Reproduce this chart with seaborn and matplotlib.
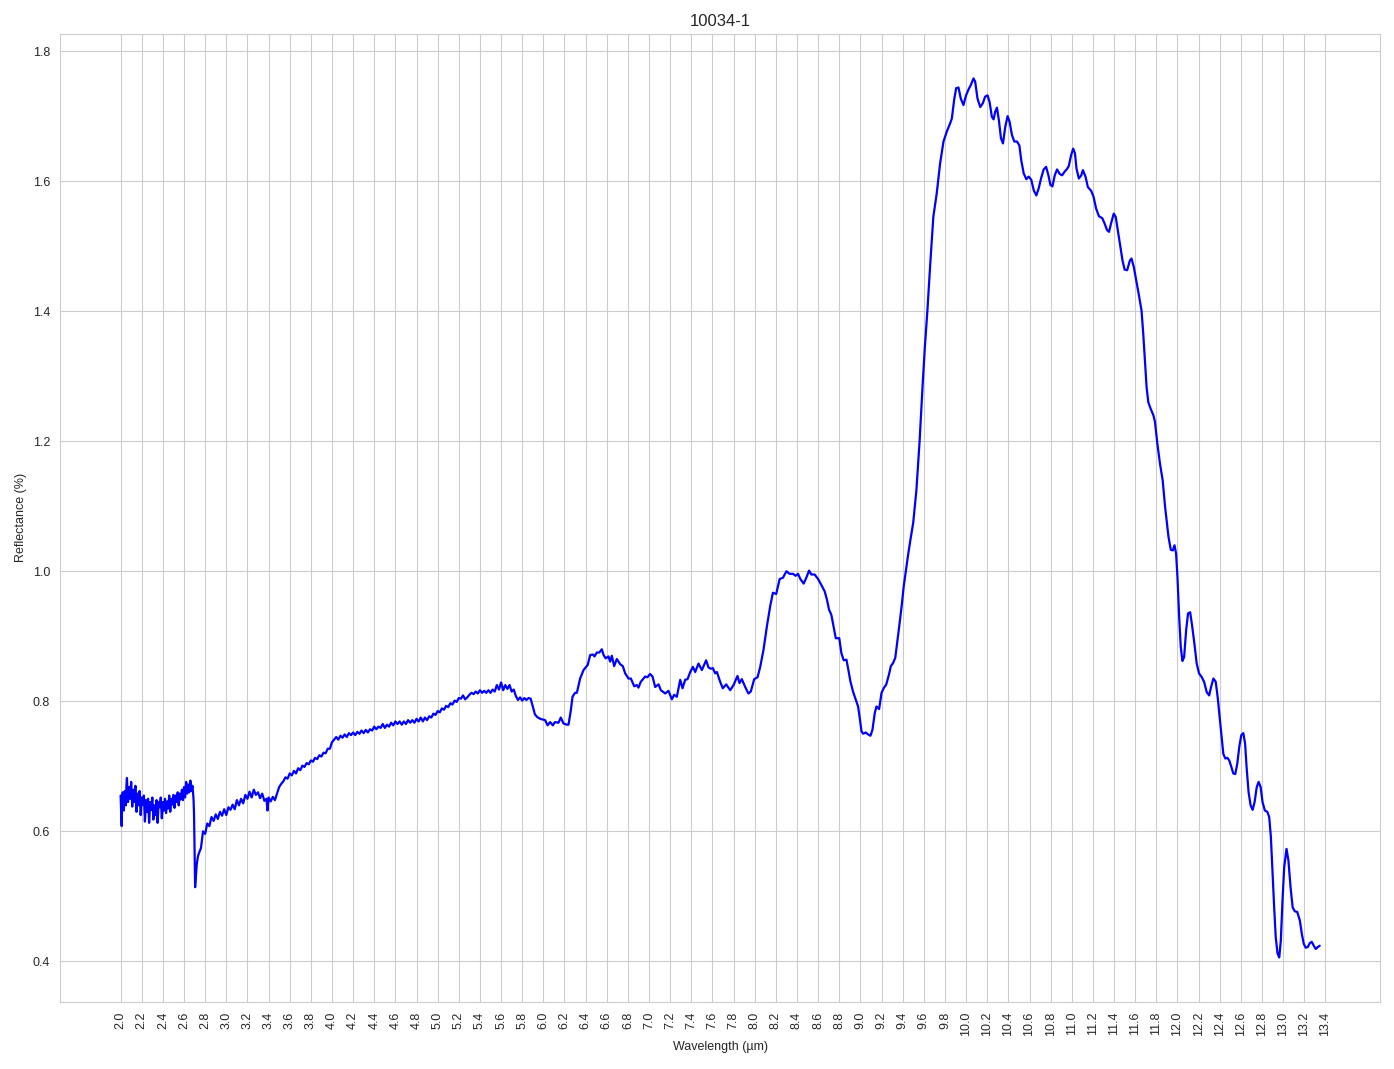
import matplotlib
matplotlib.use('Agg')
import matplotlib.pyplot as plt
import seaborn as sns
import numpy as np

# Noisy start of the spectrum (2.00 - 2.69 um)
wl_start = [2.00, 2.005, 2.01, 2.015, 2.02, 2.03, 2.04, 2.05, 2.055, 2.06, 2.07, 2.08, 2.09,
            2.10, 2.11, 2.12, 2.13, 2.14, 2.15, 2.16, 2.17, 2.18, 2.19,
            2.20, 2.21, 2.22, 2.23, 2.24, 2.25, 2.26, 2.27, 2.28, 2.29,
            2.30, 2.31, 2.32, 2.33, 2.34, 2.35, 2.36, 2.37, 2.38, 2.39,
            2.40, 2.41, 2.42, 2.43, 2.44, 2.45, 2.46, 2.47, 2.48, 2.49,
            2.50, 2.51, 2.52, 2.53, 2.54, 2.55, 2.56, 2.57, 2.58, 2.59,
            2.60, 2.61, 2.62, 2.63, 2.64, 2.65, 2.66, 2.67, 2.68, 2.69]
refl_start = [0.655, 0.630, 0.608, 0.650, 0.660, 0.632, 0.662, 0.640, 0.670, 0.682, 0.645, 0.668, 0.650,
              0.676, 0.638, 0.664, 0.645, 0.670, 0.630, 0.658, 0.640, 0.662, 0.625,
              0.652, 0.641, 0.655, 0.615, 0.648, 0.630, 0.650, 0.613, 0.645, 0.633,
              0.652, 0.618, 0.640, 0.625, 0.648, 0.613, 0.645, 0.637, 0.652, 0.620,
              0.645, 0.632, 0.650, 0.628, 0.646, 0.635, 0.655, 0.630, 0.650, 0.641,
              0.656, 0.636, 0.655, 0.645, 0.660, 0.640, 0.658, 0.649, 0.664, 0.648,
              0.668, 0.652, 0.676, 0.658, 0.672, 0.660, 0.678, 0.662, 0.670, 0.650]

# Sharp dip near 2.7 um
wl_dip = [2.695, 2.705, 2.712, 2.72, 2.73]
refl_dip = [0.625, 0.514, 0.530, 0.548, 0.560]

# Slowly rising noisy part (2.74 - 5.94 um)
wl_rise = [2.74, 2.76, 2.78, 2.80, 2.82, 2.84, 2.86, 2.88, 2.90, 2.92,
           2.94, 2.96, 2.98, 3.00, 3.02, 3.04, 3.06, 3.08, 3.10, 3.12,
           3.14, 3.16, 3.18, 3.20, 3.22, 3.24, 3.26, 3.28, 3.30, 3.32,
           3.34, 3.36, 3.38, 3.39, 3.40, 3.42, 3.44, 3.46, 3.48, 3.50,
           3.52, 3.54, 3.56, 3.58, 3.60, 3.62, 3.64, 3.66, 3.68, 3.70,
           3.72, 3.74, 3.76, 3.78, 3.80, 3.82, 3.84, 3.86, 3.88, 3.90,
           3.92, 3.94, 3.96, 3.98, 4.00, 4.02, 4.04, 4.06, 4.08, 4.10,
           4.12, 4.14, 4.16, 4.18, 4.20, 4.22, 4.24, 4.26, 4.28, 4.30,
           4.32, 4.34, 4.36, 4.38, 4.40, 4.42, 4.44, 4.46, 4.48, 4.50,
           4.52, 4.54, 4.56, 4.58, 4.60, 4.62, 4.64, 4.66, 4.68, 4.70,
           4.72, 4.74, 4.76, 4.78, 4.80, 4.82, 4.84, 4.86, 4.88, 4.90,
           4.92, 4.94, 4.96, 4.98, 5.00, 5.02, 5.04, 5.06, 5.08, 5.10,
           5.12, 5.14, 5.16, 5.18, 5.20, 5.22, 5.24, 5.26, 5.28, 5.30,
           5.32, 5.34, 5.36, 5.38, 5.40, 5.42, 5.44, 5.46, 5.48, 5.50,
           5.52, 5.54, 5.56, 5.58, 5.60, 5.62, 5.64, 5.66, 5.68, 5.70,
           5.72, 5.74, 5.76, 5.78, 5.80, 5.82, 5.84, 5.86, 5.88, 5.90,
           5.92, 5.94]
refl_rise = [0.566, 0.574, 0.600, 0.596, 0.612, 0.608, 0.622, 0.616, 0.626, 0.619,
             0.630, 0.624, 0.634, 0.625, 0.637, 0.633, 0.641, 0.634, 0.648, 0.640,
             0.650, 0.643, 0.656, 0.650, 0.661, 0.652, 0.664, 0.656, 0.660, 0.651,
             0.658, 0.647, 0.650, 0.632, 0.652, 0.646, 0.653, 0.648, 0.658, 0.668,
             0.673, 0.677, 0.683, 0.681, 0.689, 0.686, 0.693, 0.689, 0.697, 0.694,
             0.701, 0.699, 0.705, 0.703, 0.709, 0.707, 0.713, 0.711, 0.717, 0.715,
             0.721, 0.720, 0.727, 0.727, 0.737, 0.741, 0.745, 0.741, 0.747, 0.744,
             0.749, 0.745, 0.751, 0.748, 0.752, 0.748, 0.753, 0.750, 0.755, 0.751,
             0.756, 0.752, 0.757, 0.755, 0.761, 0.757, 0.761, 0.759, 0.765, 0.759,
             0.764, 0.761, 0.767, 0.763, 0.769, 0.765, 0.769, 0.764, 0.769, 0.765,
             0.771, 0.767, 0.771, 0.767, 0.773, 0.769, 0.775, 0.769, 0.775, 0.771,
             0.777, 0.775, 0.781, 0.779, 0.785, 0.783, 0.789, 0.787, 0.793, 0.791,
             0.797, 0.795, 0.801, 0.799, 0.805, 0.804, 0.809, 0.803, 0.806, 0.810,
             0.813, 0.811, 0.815, 0.812, 0.817, 0.813, 0.816, 0.813, 0.817, 0.813,
             0.818, 0.815, 0.825, 0.818, 0.829, 0.817, 0.825, 0.819, 0.825, 0.815,
             0.818, 0.808, 0.802, 0.806, 0.801, 0.805, 0.802, 0.805, 0.804, 0.792,
             0.780, 0.776]

# Mid-infrared bands (5.97 - 9.47 um)
wl_mid = [5.97, 6.017, 6.04, 6.064, 6.09, 6.11, 6.143, 6.165, 6.19, 6.222,
          6.238, 6.26, 6.276, 6.30, 6.317, 6.348, 6.38, 6.42, 6.443, 6.468,
          6.484, 6.506, 6.53, 6.553, 6.57, 6.59, 6.616, 6.632, 6.648, 6.67,
          6.695, 6.727, 6.752, 6.774, 6.806, 6.828, 6.86, 6.884, 6.90, 6.922,
          6.963, 6.985, 7.01, 7.033, 7.058, 7.09, 7.112, 7.153, 7.184, 7.216,
          7.238, 7.263, 7.295, 7.317, 7.342, 7.364, 7.39, 7.415, 7.437, 7.468,
          7.50, 7.516, 7.54, 7.563, 7.585, 7.604, 7.626, 7.642, 7.673, 7.698,
          7.73, 7.768, 7.80, 7.837, 7.856, 7.878, 7.91, 7.94, 7.963, 7.995,
          8.027, 8.052, 8.083, 8.115, 8.146, 8.172, 8.203, 8.236, 8.267, 8.30,
          8.33, 8.362, 8.387, 8.41, 8.432, 8.463, 8.488, 8.514, 8.536, 8.567,
          8.60, 8.63, 8.662, 8.684, 8.703, 8.725, 8.748, 8.767, 8.80, 8.82,
          8.842, 8.868, 8.883, 8.905, 8.93, 8.962, 8.978, 8.994, 9.01, 9.026,
          9.05, 9.073, 9.095, 9.114, 9.136, 9.152, 9.177, 9.20, 9.22, 9.245,
          9.27, 9.288, 9.31, 9.33, 9.348, 9.367, 9.39, 9.41, 9.43, 9.452,
          9.474]
refl_mid = [0.773, 0.771, 0.763, 0.768, 0.763, 0.768, 0.767, 0.775, 0.766, 0.764,
            0.764, 0.786, 0.807, 0.813, 0.813, 0.835, 0.848, 0.856, 0.871, 0.872,
            0.869, 0.875, 0.875, 0.880, 0.871, 0.866, 0.869, 0.861, 0.870, 0.854,
            0.865, 0.857, 0.854, 0.843, 0.835, 0.835, 0.823, 0.825, 0.821, 0.830,
            0.838, 0.837, 0.842, 0.838, 0.822, 0.826, 0.817, 0.812, 0.816, 0.803,
            0.810, 0.807, 0.833, 0.820, 0.833, 0.834, 0.845, 0.853, 0.845, 0.858,
            0.848, 0.854, 0.863, 0.852, 0.850, 0.851, 0.843, 0.845, 0.830, 0.820,
            0.826, 0.817, 0.825, 0.839, 0.828, 0.834, 0.822, 0.812, 0.815, 0.834,
            0.837, 0.853, 0.879, 0.915, 0.946, 0.967, 0.965, 0.988, 0.990, 1.000,
            0.996, 0.996, 0.993, 0.996, 0.988, 0.981, 0.990, 1.001, 0.995, 0.995,
            0.988, 0.979, 0.969, 0.956, 0.941, 0.933, 0.913, 0.897, 0.897, 0.874,
            0.863, 0.864, 0.851, 0.831, 0.815, 0.800, 0.792, 0.774, 0.754, 0.750,
            0.752, 0.749, 0.747, 0.756, 0.782, 0.792, 0.788, 0.813, 0.820, 0.826,
            0.841, 0.854, 0.859, 0.867, 0.890, 0.915, 0.946, 0.977, 1.000, 1.026,
            1.049]

# Reststrahlen peak (9.50 - 11.09 um)
wl_peak = [9.50, 9.53, 9.56, 9.59, 9.61, 9.634, 9.659, 9.69, 9.722, 9.754, 9.786, 9.817,
           9.849, 9.865, 9.887, 9.906, 9.928, 9.95, 9.975, 10.0, 10.023, 10.045,
           10.07, 10.086, 10.108, 10.134, 10.159, 10.18, 10.203, 10.222, 10.244, 10.26,
           10.276, 10.292, 10.31, 10.33, 10.349, 10.371, 10.393, 10.412, 10.434, 10.456,
           10.481, 10.504, 10.522, 10.545, 10.57, 10.592, 10.617, 10.64, 10.665, 10.687,
           10.709, 10.734, 10.757, 10.779, 10.798, 10.817, 10.839, 10.861, 10.886, 10.908,
           10.93, 10.956, 10.971, 10.994, 11.013, 11.03, 11.045, 11.067, 11.09]
refl_peak = [1.075, 1.125, 1.200, 1.290, 1.345, 1.401, 1.468, 1.545, 1.581, 1.627, 1.661, 1.676,
             1.689, 1.696, 1.725, 1.743, 1.744, 1.727, 1.717, 1.732, 1.741, 1.748,
             1.758, 1.753, 1.727, 1.714, 1.720, 1.730, 1.732, 1.722, 1.699, 1.695,
             1.707, 1.713, 1.694, 1.666, 1.658, 1.684, 1.700, 1.691, 1.671, 1.661,
             1.661, 1.655, 1.632, 1.612, 1.603, 1.607, 1.602, 1.586, 1.578, 1.589,
             1.604, 1.618, 1.622, 1.609, 1.594, 1.592, 1.609, 1.618, 1.611, 1.609,
             1.614, 1.619, 1.623, 1.640, 1.650, 1.643, 1.619, 1.604, 1.609]

# Falling edge (11.105 - 11.883 um)
wl_fall = [11.105, 11.13, 11.152, 11.184, 11.206, 11.23, 11.257, 11.289, 11.31, 11.333,
           11.352, 11.375, 11.397, 11.416, 11.438, 11.46, 11.48, 11.50, 11.524, 11.55,
           11.565, 11.587, 11.613, 11.638, 11.66, 11.676, 11.692, 11.708, 11.724, 11.746,
           11.772, 11.787, 11.81, 11.835, 11.86, 11.883]
refl_fall = [1.617, 1.607, 1.591, 1.585, 1.576, 1.558, 1.546, 1.543, 1.535, 1.525,
             1.522, 1.537, 1.550, 1.545, 1.522, 1.499, 1.478, 1.464, 1.463, 1.478,
             1.481, 1.468, 1.445, 1.422, 1.401, 1.366, 1.324, 1.283, 1.260, 1.250,
             1.240, 1.230, 1.196, 1.165, 1.140, 1.099]

# Tail (11.915 - 13.346 um)
wl_tail = [11.915, 11.937, 11.956, 11.972, 11.987, 12.0, 12.016, 12.031, 12.047, 12.063,
           12.082, 12.10, 12.12, 12.138, 12.16, 12.182, 12.204, 12.23, 12.252, 12.277,
           12.30, 12.318, 12.34, 12.362, 12.38, 12.396, 12.415, 12.434, 12.453, 12.472,
           12.49, 12.51, 12.528, 12.547, 12.566, 12.585, 12.604, 12.623, 12.64, 12.654,
           12.673, 12.692, 12.711, 12.73, 12.75, 12.768, 12.787, 12.805, 12.827, 12.85,
           12.868, 12.884, 12.90, 12.915, 12.93, 12.947, 12.963, 12.978, 12.994, 13.01,
           13.032, 13.05, 13.07, 13.09, 13.11, 13.133, 13.158, 13.177, 13.195, 13.214,
           13.233, 13.252, 13.27, 13.29, 13.309, 13.328, 13.346]
refl_tail = [1.053, 1.033, 1.032, 1.040, 1.027, 0.991, 0.930, 0.884, 0.862, 0.868,
             0.909, 0.935, 0.937, 0.917, 0.889, 0.858, 0.843, 0.837, 0.830, 0.814,
             0.809, 0.822, 0.835, 0.830, 0.807, 0.781, 0.750, 0.719, 0.712, 0.713,
             0.709, 0.699, 0.689, 0.688, 0.704, 0.730, 0.748, 0.751, 0.735, 0.699,
             0.660, 0.640, 0.633, 0.645, 0.668, 0.676, 0.668, 0.645, 0.632, 0.630,
             0.622, 0.591, 0.535, 0.483, 0.437, 0.412, 0.406, 0.432, 0.494, 0.545,
             0.573, 0.555, 0.514, 0.483, 0.477, 0.476, 0.463, 0.442, 0.427, 0.421,
             0.422, 0.428, 0.430, 0.424, 0.419, 0.422, 0.424]

wavelength = np.array(wl_start + wl_dip + wl_rise + wl_mid + wl_peak + wl_fall + wl_tail)
reflectance = np.array(refl_start + refl_dip + refl_rise + refl_mid + refl_peak + refl_fall + refl_tail)

sns.set_style('whitegrid')
plt.rcParams['font.family'] = ['Liberation Sans', 'DejaVu Sans']

fig, ax = plt.subplots(figsize=(13.94, 10.69), dpi=100)
fig.subplots_adjust(left=0.043, right=0.99, bottom=0.063, top=0.968)

sns.lineplot(x=wavelength, y=reflectance, sort=False, estimator=None,
             color='blue', linewidth=1.6, ax=ax)

xticks = np.round(np.arange(2.0, 13.41, 0.2), 1)
ax.set_xticks(xticks)
ax.set_xticklabels([f'{t:.1f}' for t in xticks], rotation=90)
ax.set_yticks([0.4, 0.6, 0.8, 1.0, 1.2, 1.4, 1.6, 1.8])
ax.set_yticklabels(['0.4', '0.6', '0.8', '1.0', '1.2', '1.4', '1.6', '1.8'])
ax.set_xlim(1.426, 13.917)
ax.set_ylim(0.338, 1.826)
ax.tick_params(labelsize=9)

ax.set_title('10034-1', fontsize=12)
ax.set_xlabel('Wavelength (µm)', fontsize=9)
ax.set_ylabel('Reflectance (%)', fontsize=9)

plt.savefig('out.png', dpi=100)
